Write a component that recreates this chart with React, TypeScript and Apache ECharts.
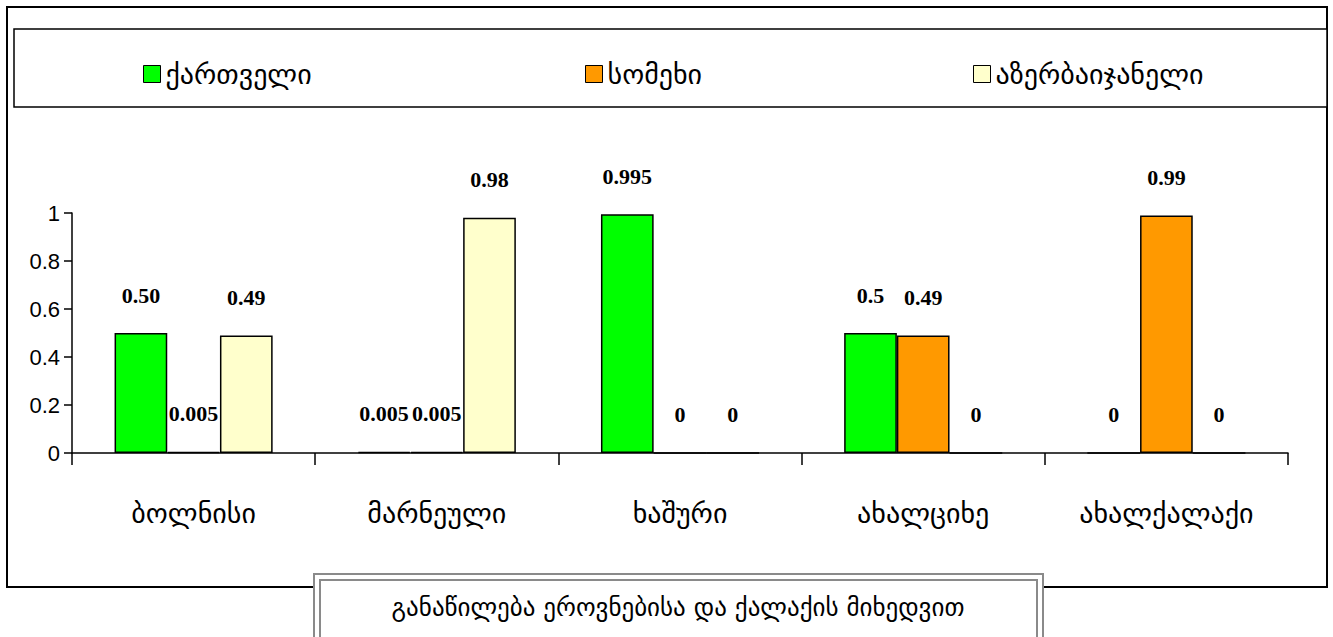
import React, { useEffect, useRef } from "react";
import * as echarts from "echarts";

const categories = ["ბოლნისი", "მარნეული", "ხაშური", "ახალციხე", "ახალქალაქი"];
const seriesNames = ["ქართველი", "სომეხი", "აზერბაიჯანელი"];
const georgianValues = [0.5, 0.005, 0.995, 0.5, 0];
const armenianValues = [0.005, 0.005, 0, 0.49, 0.99];
const azerbaijaniValues = [0.49, 0.98, 0, 0, 0];
const georgianLabels = ["0.50", "0.005", "0.995", "0.5", "0"];
const armenianLabels = ["0.005", "0.005", "0", "0.49", "0.99"];
const azerbaijaniLabels = ["0.49", "0.98", "0", "0", "0"];
const seriesColors = ["#00FF00", "#FF9900", "#FFFFCC"];
const titleText = "განაწილება ეროვნებისა და ქალაქის მიხედვით";

const GEO_FONT = "'DejaVu Sans', sans-serif";

export default function App() {
  const ref = useRef<HTMLDivElement>(null);
  useEffect(() => {
    if (!ref.current) return;
    const chart = echarts.init(ref.current, null, { renderer: "svg" });
    const values = [georgianValues, armenianValues, azerbaijaniValues];
    const labels = [georgianLabels, armenianLabels, azerbaijaniLabels];
    const legendLefts = [143, 585, 973];
    chart.setOption({
      animation: false,
      backgroundColor: "#ffffff",
      graphic: [
        {
          type: "rect",
          z: -10,
          shape: { x: 7, y: 7, width: 1320, height: 580 },
          style: { fill: "#ffffff", stroke: "#000000", lineWidth: 2 },
        },
        {
          type: "rect",
          z: -9,
          shape: { x: 14, y: 29, width: 1313, height: 78 },
          style: { fill: "#ffffff", stroke: "#000000", lineWidth: 1.5 },
        },
        {
          type: "rect",
          z: 10,
          shape: { x: 314, y: 574, width: 729, height: 70 },
          style: { fill: "#ffffff", stroke: "#8a8a8a", lineWidth: 2 },
        },
        {
          type: "rect",
          z: 11,
          shape: { x: 320, y: 580, width: 717, height: 70 },
          style: { fill: "#ffffff", stroke: "#8a8a8a", lineWidth: 2 },
        },
        {
          type: "text",
          z: 12,
          x: 678,
          y: 607,
          style: {
            text: titleText,
            fill: "#000000",
            font: "normal 25px 'DejaVu Sans', sans-serif",
            align: "center",
            verticalAlign: "middle",
          },
        },
      ],
      legend: seriesNames.map((n, i) => ({
        data: [n],
        left: legendLefts[i],
        top: 60,
        padding: 0,
        icon: "rect",
        itemWidth: 17,
        itemHeight: 17,
        itemGap: 8,
        textStyle: { fontFamily: GEO_FONT, fontSize: 28, color: "#000000" },
        itemStyle: { borderColor: "#000000", borderWidth: 1 },
        selectedMode: false,
      })),
      grid: { left: 72, right: 45, top: 213, bottom: 184, containLabel: false },
      xAxis: {
        type: "category",
        data: categories,
        axisLine: { lineStyle: { color: "#000000", width: 1.5 } },
        axisTick: { show: true, length: 12, lineStyle: { color: "#000000", width: 1.5 } },
        axisLabel: {
          margin: 46,
          fontFamily: GEO_FONT,
          fontSize: 28,
          color: "#000000",
        },
      },
      yAxis: {
        type: "value",
        min: 0,
        max: 1,
        interval: 0.2,
        axisLine: { show: true, lineStyle: { color: "#000000", width: 1.5 } },
        axisTick: { show: true, length: 8, lineStyle: { color: "#000000", width: 1.5 } },
        axisLabel: {
          margin: 12,
          fontFamily: "'Liberation Sans', Arial, sans-serif",
          fontSize: 22,
          color: "#000000",
        },
        splitLine: { show: false },
      },
      series: seriesNames.map((n, i) => ({
        name: n,
        type: "bar",
        data: values[i],
        barGap: "0%",
        barCategoryGap: "35%",
        itemStyle: { color: seriesColors[i], borderColor: "#000000", borderWidth: 1.5 },
        label: {
          show: true,
          position: "top",
          distance: 27,
          fontFamily: "'Liberation Serif', 'Times New Roman', serif",
          fontWeight: "bold",
          fontSize: 22,
          color: "#000000",
          formatter: (p: any) => labels[i][p.dataIndex],
        },
      })),
    });
    return () => chart.dispose();
  }, []);
  return (
    <div
      ref={ref}
      style={{ position: "fixed", left: 0, top: 0, width: 1333, height: 637, background: "#fff" }}
    />
  );
}
